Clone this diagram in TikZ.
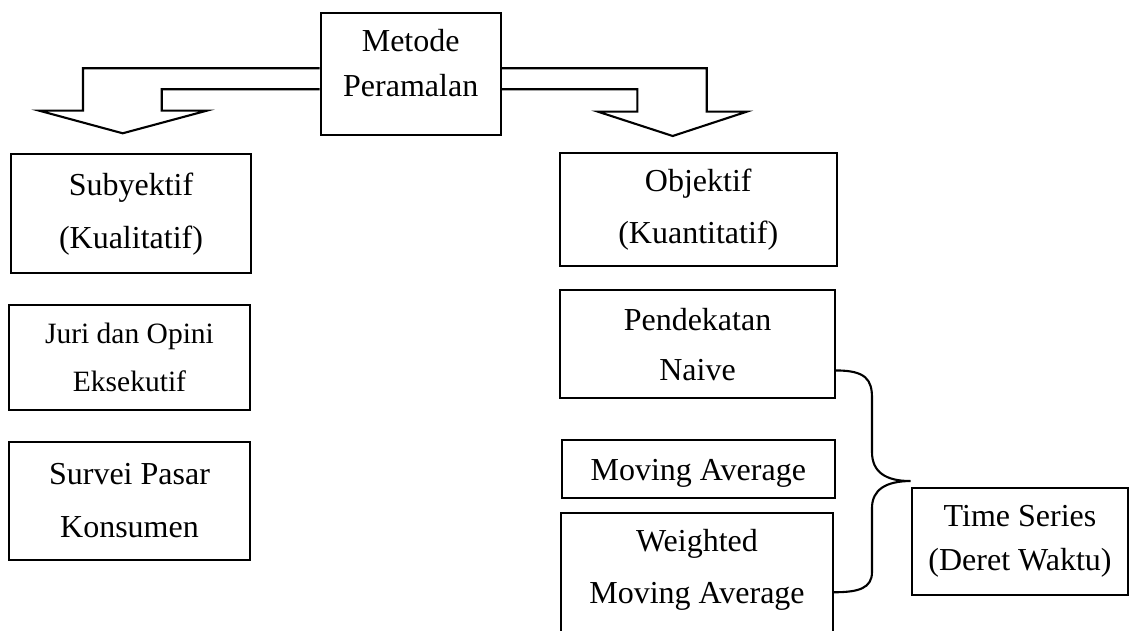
\documentclass[tikz,border=0pt]{standalone}
\usepackage{fontspec}
\setmainfont{Liberation Serif}
\usetikzlibrary{calc}
\begin{document}
\begin{tikzpicture}[x=1pt,y=-1pt,
  box/.style={draw, line width=2.2pt, inner sep=0pt, align=center, font=\fontsize{32}{53}\selectfont},
  conn/.style={line width=2.1pt, line join=miter}]
\useasboundingbox (0,0) rectangle (1130,631);
\node[box, minimum width=180pt, minimum height=122.3pt, font=\fontsize{32}{45}\selectfont] (meto) at (410.7,73.8) {Metode\\Peramalan\rule[-21pt]{0pt}{0pt}};
\node[box, minimum width=240pt, minimum height=119.3pt] (subj) at (131,213.7) {Subyektif\\(Kualitatif)};
\node[box, minimum width=276.7pt, minimum height=112.7pt, font=\fontsize{32}{52}\selectfont] (obj) at (698.3,209.7) {Objektif\\(Kuantitatif)};
\node[box, minimum width=241pt, minimum height=105pt, font=\fontsize{29.5}{48.7}\selectfont] (juri) at (129.5,357.5) {Juri dan Opini\\Eksekutif};
\node[box, minimum width=275pt, minimum height=108.3pt, font=\fontsize{32}{50}\selectfont] (naive) at (697.5,344.2) {Pendekatan\\Naive};
\node[box, minimum width=241pt, minimum height=118.3pt] (surv) at (129.5,500.8) {Survei Pasar\\Konsumen};
\node[box, minimum width=273.3pt, minimum height=58pt] (ma) at (698.3,469) {\rule{0pt}{29pt}Moving Average};
\node[box, minimum width=272pt, minimum height=126.7pt, font=\fontsize{32}{52}\selectfont] (wma) at (697,576.7) {Weighted\\Moving Average\rule[-19.7pt]{0pt}{0pt}};
\node[box, minimum width=216.7pt, minimum height=107.3pt, font=\fontsize{32}{44}\selectfont] (ts) at (1020,541.3) {Time Series\\(Deret Waktu)};
% block arrows
\draw[conn] ($(meto.west)+(0,-5.5)$) -- (83,68.3) -- (83,110.7) -- (39.3,110.7) -- (122.7,133.3) -- (206.7,110.7) -- (161.7,110.7) -- (161.7,89.3) -- ($(meto.west)+(0,15.5)$);
\draw[conn] ($(meto.east)+(0,-5.5)$) -- (706.7,68.3) -- (706.7,111.7) -- (746.7,111.7) -- (672.7,136) -- (598,111.7) -- (637.3,111.7) -- (637.3,89.3) -- ($(meto.east)+(0,15.5)$);
% brace
\coordinate (b1) at ($(naive.south east)+(0,-29)$);
\coordinate (b2) at ($(wma.north east)+(0,80)$);
\coordinate (btip) at ($(ts.north west)+(0,-5.5)$);
\draw[conn] (b1) .. controls +(30,0) and +(0,-18) .. (872,398) -- (872,452) .. controls +(0,20) and +(-25,0) .. (btip) .. controls +(-25,0) and +(0,-18) .. (872,508) -- (872,572) .. controls +(0,16) and +(25,0) .. (b2);
\end{tikzpicture}
\end{document}
